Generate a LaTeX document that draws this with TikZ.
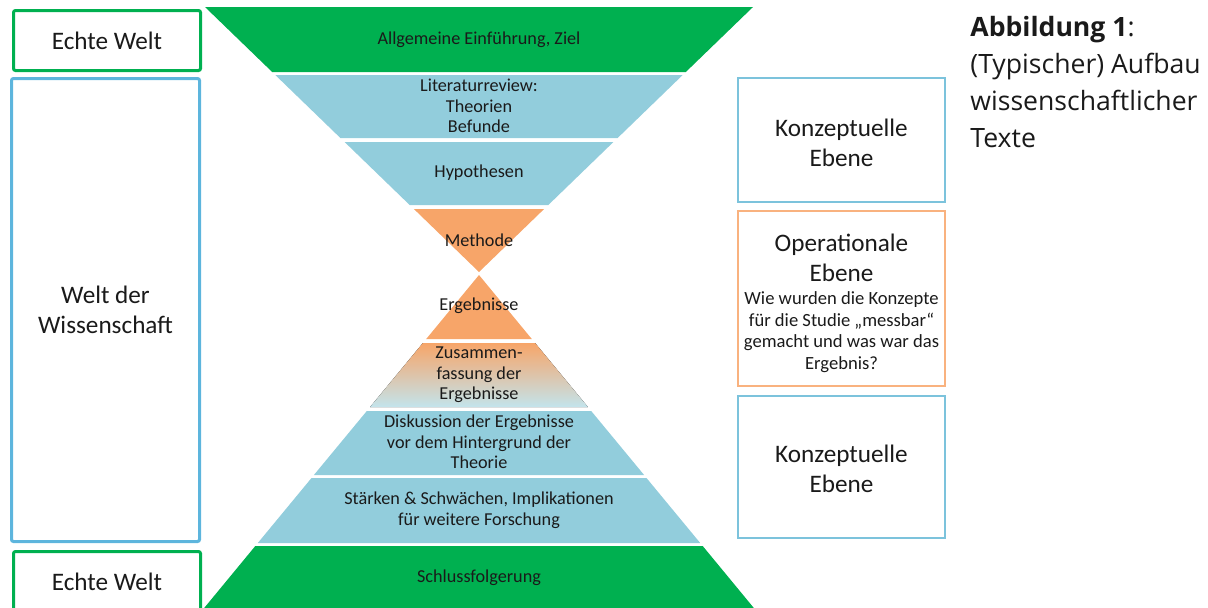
\documentclass[tikz,border=0pt]{standalone}
\usepackage{fontspec}
\setmainfont{Carlito}
\newfontfamily\opensans{Open Sans}

\definecolor{gruen}{HTML}{00B050}
\definecolor{hellblau}{HTML}{92CDDC}
\definecolor{orangefill}{HTML}{F7A569}
\definecolor{blaurand}{HTML}{5DB5DD}
\definecolor{blaurandb}{HTML}{7CC3DC}
\definecolor{orangerand}{HTML}{F9B27F}
\definecolor{schrift}{HTML}{1A1A1A}

\newcommand{\klein}{\fontsize{9.3}{10.8}\selectfont}

\begin{document}
\begin{tikzpicture}[x=0.5pt,y=-0.5pt,
    bigtext/.style={font=\fontsize{12.6}{15}\selectfont, text=schrift, align=center},
    bandtext/.style={font=\fontsize{9.1}{10.3}\selectfont, text=schrift, align=center, inner sep=0pt},
    leftbox/.style={bigtext, line width=1.5pt, rounded corners=1pt, minimum width=93.5pt},
    rightbox/.style={bigtext, line width=1pt, minimum width=103.5pt}]

\useasboundingbox (0,0) rectangle (1208,607);
\clip (0,0) rectangle (1208,607);

	%%% hourglass, upper part
    \fill[gruen] (205,7) -- (753,7) -- (685.8,72) -- (272.2,72) -- cycle;
    \fill[hellblau] (275.3,75) -- (682.7,75) -- (617.6,138) -- (340.4,138) -- cycle;
    \fill[hellblau] (344.6,142) -- (613.4,142) -- (548.3,205) -- (409.7,205) -- cycle;
    \fill[orangefill] (413.9,209) -- (544.1,209) -- (479,272) -- cycle;

	%%% hourglass, lower part
    \fill[orangefill] (479,275) -- (531.8,339) -- (426.2,339) -- cycle;
    \fill[top color=orangefill, bottom color=hellblau!55!white] (422.9,343) -- (535.1,343) -- (587.9,407) -- (370.1,407) -- cycle;
    \fill[hellblau] (366.8,411) -- (591.2,411) -- (644.1,475) -- (313.9,475) -- cycle;
    \fill[hellblau] (311.5,478) -- (646.5,478) -- (700.2,543) -- (257.8,543) -- cycle;
    \fill[gruen] (255.3,546) -- (702.7,546) -- (755.5,610) -- (202.5,610) -- cycle;

	%%% labels
    \node[bandtext] (T1) at (479,40) {Allgemeine Einführung, Ziel};
    \node[bandtext] (T2) at (479,106) {Literaturreview:\\Theorien\\Befunde};
    \node[bandtext] (T3) at (479,173) {Hypothesen};
    \node[bandtext] (T4) at (479,240) {Methode};
    \node[bandtext] (T5) at (479,306) {Ergebnisse};
    \node[bandtext] (T6) at (479,375) {Zusammen-\\fassung der\\Ergebnisse};
    \node[bandtext] (T7) at (479,442) {Diskussion der Ergebnisse\\vor dem Hintergrund der\\Theorie};
    \node[bandtext] (T8) at (479,510) {Stärken \& Schwächen, Implikationen\\für weitere Forschung};
    \node[bandtext] (T9) at (479,578) {Schlussfolgerung};

	%%% left boxes
    \node[leftbox, draw=gruen, minimum height=30pt] (E1) at (107,40.5) {Echte Welt};
    \node[leftbox, draw=blaurand, minimum width=94pt, minimum height=231.5pt] (W1) at (105.5,310) {Welt der\\Wissenschaft};
    \node[leftbox, draw=gruen, minimum height=30pt] (E2) at (107,581.5) {Echte Welt};

	%%% right boxes
    \node[rightbox, draw=blaurandb, minimum height=62pt] (K1) at (841.5,140) {};
    \node[bigtext] (K1t) at (841.5,142.5) {Konzeptuelle\\Ebene};
    \node[rightbox, draw=orangerand, minimum height=87.5pt] (O1) at (841.5,298.5) {};
    \node[bigtext] (O1t) at (841.5,303.5)
      {Operationale\\Ebene\\[-3.5pt]{\klein Wie wurden die Konzepte}\\[-4.2pt]{\klein für die Studie „messbar“}\\[-4.2pt]{\klein gemacht und was war das}\\[-4.2pt]{\klein Ergebnis?}};
    \node[rightbox, draw=blaurandb, minimum height=71pt] (K2) at (841.5,467) {};
    \node[bigtext] (K2t) at (841.5,469) {Konzeptuelle\\Ebene};

	%%% caption
    \node[anchor=north west, align=left, inner sep=0pt, text=schrift, font=\opensans\fontsize{13.3}{18.5}\selectfont] (A1) at (970,16)
      {\textbf{Abbildung 1}:\\(Typischer) Aufbau\\wissenschaftlicher\\Texte};

\end{tikzpicture}
\end{document}
